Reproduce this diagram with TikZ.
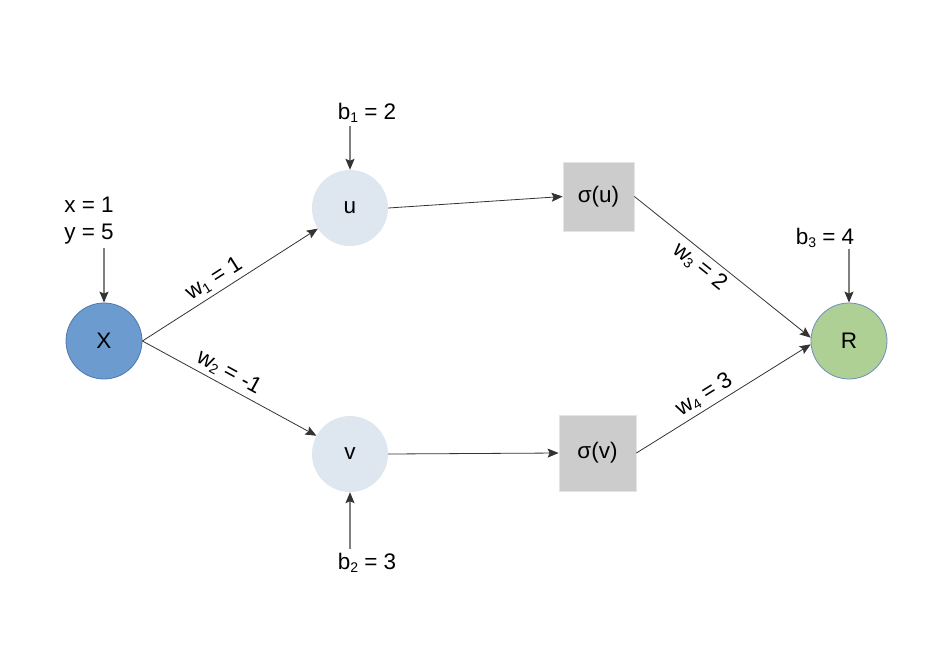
\documentclass[tikz,border=0pt]{standalone}
\usepackage{fontspec}
\setmainfont{Liberation Sans}
\usetikzlibrary{arrows.meta}
\definecolor{xfill}{HTML}{6C9BCF}
\definecolor{xdraw}{HTML}{4F79AE}
\definecolor{hfill}{HTML}{DEE6F0}
\definecolor{sfill}{HTML}{CCCCCC}
\definecolor{sdraw}{HTML}{E4E4E4}
\definecolor{rfill}{HTML}{AFD095}
\definecolor{rdraw}{HTML}{6C8EBF}
\definecolor{edgec}{HTML}{333333}
\definecolor{biasc}{HTML}{808080}
\newcommand{\sbs}[1]{\raisebox{-0.25ex}{\fontsize{14}{14}\selectfont #1}}
\tikzset{
  every node/.style={font=\fontsize{22.5}{27}\selectfont, text=black},
  neuron/.style={circle, minimum size=76pt, inner sep=0pt},
  inputn/.style={neuron, fill=xfill, draw=xdraw, line width=0.8pt},
  hiddenn/.style={neuron, fill=hfill},
  outn/.style={neuron, fill=rfill, draw=rdraw, line width=0.8pt},
  actbox/.style={rectangle, fill=sfill, draw=sdraw, line width=0.8pt, inner sep=0pt},
  conn/.style={draw=edgec, line width=0.8pt, -{Stealth[length=11pt,width=9pt,inset=2pt,fill=edgec]}},
  biasarrow/.style={draw=biasc, line width=1.2pt, -{Stealth[length=11pt,width=9pt,inset=2pt,fill=edgec,color=edgec]}},
  wlabel/.style={sloped, inner sep=4pt},
  plainlbl/.style={inner sep=1pt, align=center}
}
\begin{document}
\begin{tikzpicture}[x=1pt,y=-1pt]
\useasboundingbox (0,0) rectangle (945,665);
% nodes
\node[inputn] (X) at (104,341) {X};
\node[hiddenn] (u) at (350,208) {u};
\node[hiddenn] (v) at (350,454) {v};
\node[actbox, minimum width=71pt, minimum height=69pt] (su) at (598.5,196.5) {σ(u)};
\node[actbox, minimum width=77pt, minimum height=76pt] (sv) at (597.5,453) {σ(v)};
\node[outn] (R) at (849,341) {R};
% bias labels
\node[plainlbl, font=\fontsize{22.5}{27}\selectfont] (xy) at (89,221) {x = 1\\y = 5};
\node[plainlbl] (b1) at (367,113) {b\sbs{1} = 2};
\node[plainlbl] (b2) at (367,563) {b\sbs{2} = 3};
\node[plainlbl] (b3) at (825,238) {b\sbs{3} = 4};
% bias arrows
\draw[biasarrow] (xy.south -| X.north) ++(0,2) -- (X.north);
\draw[biasarrow] (b1.south -| u.north) ++(0,2) -- (u.north);
\draw[biasarrow] (b2.north -| v.south) ++(0,-3) -- (v.south);
\draw[biasarrow] (b3.south -| R.north) -- (R.north);
% connections
\draw[conn] (X.east) -- node[wlabel, above, pos=0.45] {w\sbs{1} = 1} (u);
\draw[conn] (X.east) -- node[wlabel, above, pos=0.46] {w\sbs{2} = -1} (v);
\draw[conn] (u.east) -- (su.west);
\draw[conn] (v.east) -- (sv.west);
\draw[conn] (su.east) -- node[wlabel, below, pos=0.42] {w\sbs{3} = 2} (R.175);
\draw[conn] (sv.east) -- node[wlabel, above, pos=0.43] {w\sbs{4} = 3} (R.185);
\end{tikzpicture}
\end{document}
